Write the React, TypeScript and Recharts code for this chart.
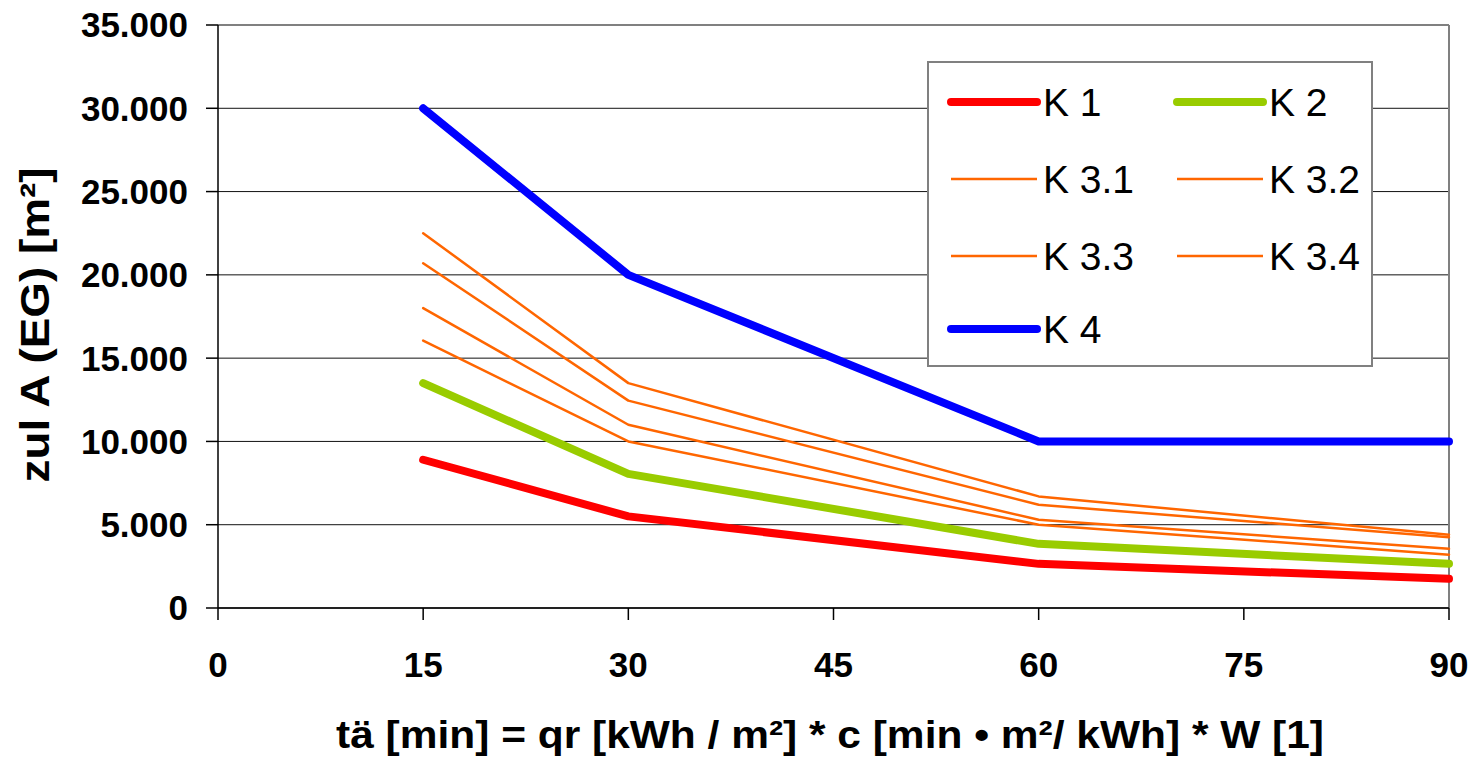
import React from "react";
import { LineChart, Line, XAxis, YAxis, CartesianGrid, ReferenceLine } from "recharts";

const xValues = [15, 30, 60, 90];
const k1 = [8900, 5500, 2650, 1750];
const k2 = [13500, 8050, 3850, 2650];
const k31 = [16050, 10000, 5000, 3200];
const k32 = [18000, 11000, 5300, 3550];
const k33 = [20700, 12450, 6200, 4250];
const k34 = [22500, 13500, 6700, 4400];
const k4 = [30000, 20000, 10000, 10000];
const xTicks = [0, 15, 30, 45, 60, 75, 90];
const yTicks = [0, 5000, 10000, 15000, 20000, 25000, 30000, 35000];

const seriesDefs = [
  { key: "K 1", values: k1, color: "#FF0000", width: 8 },
  { key: "K 2", values: k2, color: "#99CC00", width: 8 },
  { key: "K 3.1", values: k31, color: "#FF6600", width: 2.5 },
  { key: "K 3.2", values: k32, color: "#FF6600", width: 2.5 },
  { key: "K 3.3", values: k33, color: "#FF6600", width: 2.5 },
  { key: "K 3.4", values: k34, color: "#FF6600", width: 2.5 },
  { key: "K 4", values: k4, color: "#0000FF", width: 8 },
];

const data = xValues.map((x, i) => {
  const row: Record<string, number> = { x };
  seriesDefs.forEach((s) => {
    row[s.key] = s.values[i];
  });
  return row;
});

const FONT = "'Liberation Sans', Arial, sans-serif";

const fmt = (v: number) => (v === 0 ? "0" : v.toLocaleString("de-DE"));

const LegendBox = () => {
  const rows = [
    [seriesDefs[0], seriesDefs[1]],
    [seriesDefs[2], seriesDefs[3]],
    [seriesDefs[4], seriesDefs[5]],
    [seriesDefs[6]],
  ];
  const rowTops = [100, 177, 254, 327];
  return (
    <div
      style={{
        position: "absolute",
        left: 927,
        top: 61,
        width: 446,
        height: 306,
        border: "2px solid #808080",
        background: "#fff",
        boxSizing: "border-box",
        fontFamily: FONT,
      }}
    >
      {rows.map((r, ri) =>
        r.map((s, ci) => (
          <div
            key={s.key}
            style={{
              position: "absolute",
              left: ci === 0 ? 18 : 244,
              top: rowTops[ri] - 61 - 22,
              height: 44,
              display: "flex",
              alignItems: "center",
            }}
          >
            <svg width={94} height={14}>
              <line
                x1={4}
                x2={90}
                y1={7}
                y2={7}
                stroke={s.color}
                strokeWidth={s.width}
                strokeLinecap={s.width > 4 ? "round" : "butt"}
              />
            </svg>
            <span style={{ fontSize: 39, marginLeft: 2, color: "#000", lineHeight: 1 }}>{s.key}</span>
          </div>
        ))
      )}
    </div>
  );
};

export default function App() {
  return (
    <div style={{ position: "absolute", left: 0, top: 0, width: 1471, height: 759, background: "#fff" }}>
      <LineChart
        width={1471}
        height={759}
        data={data}
        margin={{ top: 25, right: 22, bottom: 0, left: 0 }}
      >
        <CartesianGrid horizontal={true} vertical={false} stroke="#111" strokeWidth={1} />
        <XAxis
          dataKey="x"
          type="number"
          domain={[0, 90]}
          ticks={xTicks}
          height={151}
          stroke="#000"
          strokeWidth={1.5}
          tickSize={12}
          tickMargin={32}
          tick={{ fill: "#000", fontSize: 35, fontWeight: "bold", fontFamily: FONT }}
          label={{
            content: () => (
              <text
                x={830}
                y={748}
                textAnchor="middle"
                fontFamily={FONT}
                fontWeight="bold"
                fontSize={38}
                textLength={988}
                lengthAdjust="spacingAndGlyphs"
                fill="#000"
              >
                tä [min] = qr [kWh / m²] * c [min • m²/ kWh] * W [1]
              </text>
            ),
          }}
        />
        <YAxis
          type="number"
          domain={[0, 35000]}
          ticks={yTicks}
          width={218}
          stroke="#000"
          strokeWidth={1.5}
          tickSize={12}
          tickMargin={18}
          tickFormatter={fmt}
          tick={{ fill: "#000", fontSize: 35, fontWeight: "bold", fontFamily: FONT }}
          label={{
            content: () => (
              <text
                x={49}
                y={325}
                transform="rotate(-90 49 325)"
                textAnchor="middle"
                fontFamily={FONT}
                fontWeight="bold"
                fontSize={40}
                textLength={315}
                lengthAdjust="spacingAndGlyphs"
                fill="#000"
              >
                zul A (EG) [m²]
              </text>
            ),
          }}
        />
        <ReferenceLine y={35000} stroke="#808080" strokeWidth={2} />
        <ReferenceLine x={90} stroke="#808080" strokeWidth={2} />
        {seriesDefs.map((s) => (
          <Line
            key={s.key}
            dataKey={s.key}
            stroke={s.color}
            strokeWidth={s.width}
            strokeLinecap="round"
            strokeLinejoin="round"
            dot={false}
            activeDot={false}
            isAnimationActive={false}
            type="linear"
          />
        ))}
      </LineChart>
      <LegendBox />
    </div>
  );
}
